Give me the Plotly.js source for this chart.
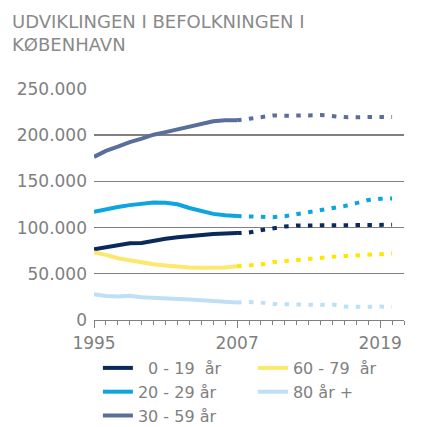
<!DOCTYPE html>
<html>
<head>
<meta charset="utf-8">
<script src="https://cdn.plot.ly/plotly-3.0.1.min.js"></script>
<style>
  html, body { margin: 0; padding: 0; background: #ffffff; }
  #chart { width: 422px; height: 427px; }
</style>
</head>
<body>
<div id="chart"></div>
<script>
// Historical years (solid) and projection years (dotted)
const histYears = [1995, 1996, 1997, 1998, 1999, 2000, 2001, 2002, 2003, 2004, 2005, 2006, 2007];
const projYears = [2007, 2008, 2009, 2010, 2011, 2012, 2013, 2014, 2015, 2016, 2017, 2018, 2019, 2020];

// Series names
const seriesNames = ['\u20070 - 19\u00a0 år', '20 - 29 år', '30 - 59 år', '60 - 79\u00a0 år', '80 år +'];

// Historical values
const hist_0_19  = [76600, 78500, 80300, 83000, 83300, 86000, 88000, 89500, 90800, 92000, 93000, 93500, 94000];
const hist_20_29 = [117000, 120000, 122300, 124300, 125800, 127000, 126800, 125200, 121200, 117500, 114800, 113400, 112500];
const hist_30_59 = [176500, 183000, 187500, 192500, 196300, 200500, 203300, 206300, 209500, 213000, 215000, 216200, 216000];
const hist_60_79 = [73000, 70500, 66800, 64500, 62300, 60300, 58900, 57600, 56800, 56400, 56200, 56900, 58200];
const hist_80    = [27800, 26000, 25400, 26200, 24500, 24200, 23800, 22600, 22300, 21300, 20300, 19500, 18900];

// Projected values
const proj_0_19  = [94000, 94600, 97200, 99400, 101100, 102200, 102200, 102600, 102600, 102600, 102600, 102200, 102600, 103000];
const proj_20_29 = [112500, 112000, 111300, 111300, 112200, 114300, 116300, 118100, 120800, 123200, 126500, 129800, 131100, 131500];
const proj_30_59 = [216000, 217500, 219500, 221200, 221000, 220800, 221300, 221800, 220500, 219500, 219400, 219500, 219700, 219700];
const proj_60_79 = [58200, 59000, 60000, 62600, 63900, 65000, 66100, 67200, 68300, 69200, 69800, 70800, 71300, 71900];
const proj_80    = [18900, 19500, 18800, 17300, 17000, 16600, 15900, 16300, 16800, 14500, 14400, 14800, 14500, 14400];

// X axis tick labels
const xTickVals = [1995, 2007, 2019];
const xTickText = ['1995', '2007', '2019'];

const histSeries = [hist_0_19, hist_20_29, hist_30_59, hist_60_79, hist_80];
const projSeries = [proj_0_19, proj_20_29, proj_30_59, proj_60_79, proj_80];
const solidColors = ['#0b2a5b', '#0ca5e1', '#5a6e9b', '#fbe86c', '#bfe0f4'];
const dotColors   = ['#0b2a5b', '#0ca5e1', '#5a6e9b', '#ffe500', '#bfe0f4'];
const legendRanks = [1, 3, 5, 2, 4];

const traces = [];
for (let i = 0; i < seriesNames.length; i++) {
  traces.push({
    x: histYears, y: histSeries[i], type: 'scatter', mode: 'lines',
    name: seriesNames[i], legendrank: legendRanks[i],
    line: { color: solidColors[i], width: 4 }, hoverinfo: 'skip'
  });
  traces.push({
    x: projYears, y: projSeries[i], type: 'scatter', mode: 'lines',
    name: seriesNames[i], showlegend: false,
    line: { color: dotColors[i], width: 4, dash: '4.5px,7.4px' }, hoverinfo: 'skip'
  });
}

const grey = '#808080';
const layout = {
  width: 422, height: 427,
  paper_bgcolor: '#ffffff', plot_bgcolor: '#ffffff',
  separators: ',.',
  font: { family: 'DejaVu Sans', size: 17, color: grey },
  margin: { l: 94, r: 18, t: 88, b: 107, autoexpand: false },
  title: {
    text: 'UDVIKLINGEN I BEFOLKNINGEN I<br>KØBENHAVN',
    font: { family: 'DejaVu Sans', size: 18, color: '#8a8a8a' },
    x: 0, xref: 'container', xanchor: 'left', pad: { l: 12 },
    y: 0.935, yref: 'container', yanchor: 'top'
  },
  xaxis: {
    range: [1995, 2021],
    tickmode: 'array', tickvals: xTickVals, ticktext: xTickText,
    ticks: 'outside', ticklen: 7, tickcolor: grey, tickwidth: 1,
    minor: { dtick: 1, tick0: 1995, ticks: 'outside', ticklen: 4, tickcolor: grey, tickwidth: 1, showgrid: false },
    showline: true, linecolor: grey, linewidth: 1.3,
    showgrid: false, zeroline: false,
    tickfont: { size: 17, color: grey }
  },
  yaxis: {
    range: [0, 251000],
    tickvals: [0, 50000, 100000, 150000, 200000, 250000],
    tickformat: ',d',
    showgrid: true, gridcolor: grey, gridwidth: 1.3,
    zeroline: false, showline: false, ticks: '',
    ticklabelstandoff: 6,
    tickfont: { size: 17, color: grey }
  },
  showlegend: true,
  legend: {
    orientation: 'h', xref: 'container', x: 0.232, xanchor: 'left',
    yref: 'container', y: 0.178, yanchor: 'top',
    entrywidth: 110, font: { size: 16, color: grey },
    bgcolor: 'rgba(0,0,0,0)', traceorder: 'normal', tracegroupgap: 0
  }
};

Plotly.newPlot('chart', traces, layout, { staticPlot: true, displayModeBar: false });
</script>
</body>
</html>
